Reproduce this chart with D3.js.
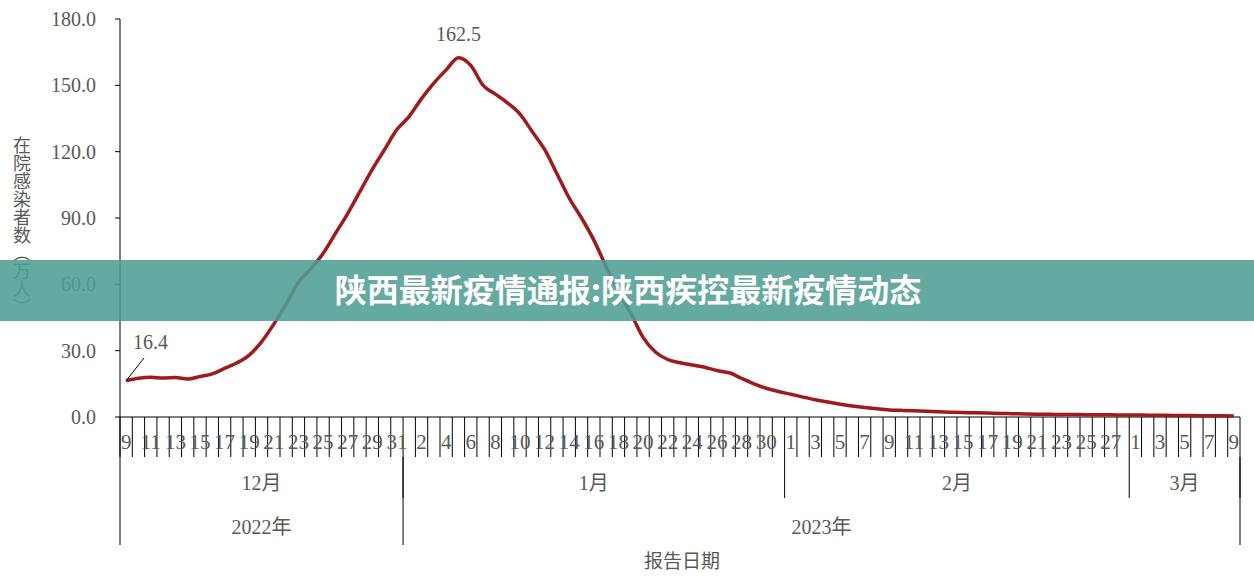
<!DOCTYPE html>
<html>
<head>
<meta charset="utf-8">
<script src="https://cdnjs.cloudflare.com/ajax/libs/d3/7.8.5/d3.min.js"></script>
<style>
  body { margin: 0; background: #fff; }
  text { font-family: 'Liberation Serif', 'Noto Sans CJK SC', serif; fill: #595959; }
</style>
</head>
<body>
<svg id="chart" width="1254" height="582"></svg>
<script>
// daily in-hospital infections (10k people), 2022-12-09 .. 2023-03-09
var values = [16.4,17.5,18.0,17.6,17.9,17.2,18.3,19.5,22,24.5,28,34,42,51,61,67,74,83,92,102,112,121,130,136,144,151,157,162.5,159,150,146,142,137,129,121,110,99,90,80,68,57,47,36,29.4,26,24.5,23.5,22.5,21,20,17.5,15,13,11.5,10.3,9,7.8,6.8,5.8,5,4.3,3.7,3.2,3,2.8,2.6,2.4,2.2,2.0,1.9,1.8,1.6,1.5,1.4,1.3,1.2,1.15,1.1,1.05,1.0,1.0,0.9,0.9,0.8,0.8,0.7,0.7,0.6,0.6,0.55,0.5];
var dates = d3.timeDay.range(new Date(2022, 11, 9), new Date(2023, 2, 10));
var months = [{label: "12月", n: 23}, {label: "1月", n: 31}, {label: "2月", n: 28}, {label: "3月", n: 9}];
var years = [{label: "2022年", n: 23}, {label: "2023年", n: 68}];
var yTicks = [0, 30, 60, 90, 120, 150, 180];

var svg = d3.select("#chart");
var pLeft = 120, pRight = 1240, pTop = 19, pBottom = 417;

var x = d3.scaleBand().domain(d3.range(dates.length)).range([pLeft, pRight]);
var y = d3.scaleLinear().domain([0, 180]).range([pBottom, pTop]);
var bw = x.bandwidth();

// y axis
svg.append("line").attr("x1", pLeft).attr("x2", pLeft).attr("y1", pTop).attr("y2", pBottom).attr("stroke", "#000");
yTicks.forEach(function (t) {
  svg.append("line").attr("x1", pLeft - 5).attr("x2", pLeft).attr("y1", y(t)).attr("y2", y(t)).attr("stroke", "#000");
  svg.append("text").attr("x", 96).attr("y", y(t) + 7).attr("text-anchor", "end")
    .attr("font-size", 20).text(t.toFixed(1));
});

// x axis
svg.append("line").attr("x1", pLeft).attr("x2", pRight).attr("y1", pBottom).attr("y2", pBottom).attr("stroke", "#000");
d3.range(dates.length + 1).forEach(function (i) {
  svg.append("line").attr("x1", pLeft + i * bw).attr("x2", pLeft + i * bw)
    .attr("y1", pBottom).attr("y2", 457).attr("stroke", "#000");
});
dates.forEach(function (d, i) {
  if (i % 2 === 0) {
    svg.append("text").attr("x", x(i) + bw / 2).attr("y", 449).attr("text-anchor", "middle")
      .attr("font-size", 21).text(d.getDate());
  }
});

var acc = 0;
svg.append("line").attr("x1", pLeft).attr("x2", pLeft).attr("y1", pBottom).attr("y2", 545).attr("stroke", "#000");
months.forEach(function (m) {
  var x0 = pLeft + acc * bw, x1 = pLeft + (acc + m.n) * bw;
  svg.append("line").attr("x1", x1).attr("x2", x1).attr("y1", 457).attr("y2", 498).attr("stroke", "#000");
  svg.append("text").attr("x", (x0 + x1) / 2).attr("y", 490).attr("text-anchor", "middle")
    .attr("font-size", 20).text(m.label);
  acc += m.n;
});
acc = 0;
years.forEach(function (yr) {
  var x0 = pLeft + acc * bw, x1 = pLeft + (acc + yr.n) * bw;
  svg.append("line").attr("x1", x1).attr("x2", x1).attr("y1", 457).attr("y2", 545).attr("stroke", "#000");
  svg.append("text").attr("x", (x0 + x1) / 2).attr("y", 534).attr("text-anchor", "middle")
    .attr("font-size", 20).text(yr.label);
  acc += yr.n;
});

// titles
svg.append("text").attr("x", 682).attr("y", 568).attr("text-anchor", "middle")
  .attr("font-size", 19).style("font-family", "'Noto Sans CJK SC'").text("报告日期");
svg.append("text").attr("transform", "translate(22,136)").attr("font-size", 18)
  .style("writing-mode", "vertical-rl").style("font-family", "'Noto Sans CJK SC'")
  .text("在院感染者数（万人）");

// line
var line = d3.line().x(function (d, i) { return x(i) + bw / 2; }).y(function (d) { return y(d); })
  .curve(d3.curveMonotoneX);
svg.append("path").datum(values).attr("d", line).attr("fill", "none")
  .attr("stroke", "#a01a1c").attr("stroke-width", 3.5).attr("stroke-linejoin", "round");

// annotations
var iMax = values.indexOf(d3.max(values));
svg.append("text").attr("x", x(iMax) + bw / 2).attr("y", 41).attr("text-anchor", "middle")
  .attr("font-size", 20).attr("fill", "#333").text(values[iMax].toFixed(1));
svg.append("line").attr("x1", x(0) + bw / 2).attr("y1", y(values[0])).attr("x2", 144).attr("y2", 358)
  .attr("stroke", "#000");
svg.append("text").attr("x", 133).attr("y", 349).attr("font-size", 20).attr("fill", "#333")
  .text(values[0].toFixed(1));

// banner
svg.append("rect").attr("x", 0).attr("y", 260).attr("width", 1254).attr("height", 61)
  .attr("fill", "#4f9e94").attr("opacity", 0.88);
svg.append("text").attr("x", 628).attr("y", 302).attr("text-anchor", "middle")
  .attr("font-size", 32).attr("font-weight", "bold").style("fill", "#fff")
  .style("font-family", "'Noto Sans CJK SC'").text("陕西最新疫情通报:陕西疾控最新疫情动态");
</script>
</body>
</html>
